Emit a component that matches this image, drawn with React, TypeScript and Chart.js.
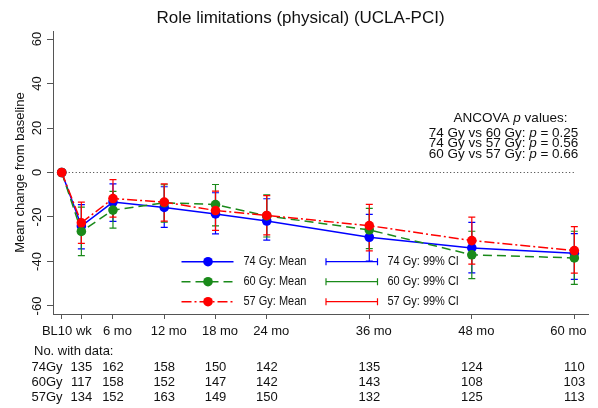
import React, { useEffect, useRef } from 'react';
import { Chart, registerables } from 'chart.js';

Chart.register(...registerables);

// ---------- data ----------
const titleText = 'Role limitations (physical) (UCLA-PCI)';
const yAxisTitle = 'Mean change from baseline';
const months = [0, 2.3, 6, 12, 18, 24, 36, 48, 60];
const tickLabels = ['BL', '10 wk', '6 mo', '12 mo', '18 mo', '24 mo', '36 mo', '48 mo', '60 mo'];
const yTicks = [-60, -40, -20, 0, 20, 40, 60];

const seriesNames = ['74 Gy', '60 Gy', '57 Gy'];
const tableNames = ['74Gy', '60Gy', '57Gy'];

const mean74 = [0, -24.1, -13.3, -15.7, -18.6, -21.8, -29.1, -33.9, -36.3];
const hi74 = [null, -14.4, -5.1, -6.4, -9.1, -11.8, -18.8, -22.4, -27.5];
const lo74 = [null, -34.3, -22.0, -24.7, -27.6, -30.4, -39.8, -45.1, -48.0];

const mean60 = [0, -26.5, -16.9, -13.6, -14.4, -19.5, -25.8, -37.0, -38.4];
const hi60 = [null, -15.6, -8.5, -5.5, -5.4, -10.0, -16.1, -26.4, -26.4];
const lo60 = [null, -37.4, -25.0, -22.3, -24.0, -29.0, -34.2, -47.7, -50.3];

const mean57 = [0, -22.6, -11.7, -13.3, -17.1, -19.3, -23.9, -30.6, -35.1];
const hi57 = [null, -13.3, -3.2, -5.1, -8.4, -10.4, -14.3, -20.1, -24.3];
const lo57 = [null, -31.9, -20.1, -21.9, -26.0, -28.0, -35.2, -41.2, -45.2];

// counts for 10 wk .. 60 mo
const n74 = [135, 162, 158, 150, 142, 135, 124, 110];
const n60 = [117, 158, 152, 147, 142, 143, 108, 103];
const n57 = [134, 152, 163, 149, 150, 132, 125, 113];

const pComparisons = ['74 Gy vs 60 Gy', '74 Gy vs 57 Gy', '60 Gy vs 57 Gy'];
const pValues = ['0.25', '0.56', '0.66'];

const zeroLineX = [0, 60];
const zeroLineY = [0, 0];

// ---------- styles ----------
const FONT = "'Liberation Sans', Arial, Helvetica, sans-serif";
const colors = ['#0000ff', '#1a8a1a', '#ff0000'];
const dashes: number[][] = [[], [9, 5], [10, 3, 2, 3]];

const means = [mean74, mean60, mean57];
const his = [hi74, hi60, hi57];
const los = [lo74, lo60, lo57];
const counts = [n74, n60, n57];

type Seg = { t: string; i?: boolean };

function drawRich(ctx: CanvasRenderingContext2D, segs: Seg[], x: number, y: number, size: number) {
  let w = 0;
  for (const s of segs) {
    ctx.font = `${s.i ? 'italic ' : ''}${size}px ${FONT}`;
    w += ctx.measureText(s.t).width;
  }
  let cx = x - w / 2;
  ctx.textAlign = 'left';
  for (const s of segs) {
    ctx.font = `${s.i ? 'italic ' : ''}${size}px ${FONT}`;
    ctx.fillText(s.t, cx, y);
    cx += ctx.measureText(s.t).width;
  }
}

function fillNarrow(ctx: CanvasRenderingContext2D, text: string, x: number, y: number, sx: number) {
  ctx.save();
  ctx.translate(x, y);
  ctx.scale(sx, 1);
  ctx.textAlign = 'left';
  ctx.fillText(text, 0, 0);
  ctx.restore();
}

const decorPlugin = {
  id: 'decor',
  beforeDatasetsDraw(chart: any) {
    const ctx: CanvasRenderingContext2D = chart.ctx;
    const xs = chart.scales.x;
    const ys = chart.scales.y;
    ctx.save();
    ctx.lineWidth = 1.2;
    for (let s = 0; s < 3; s++) {
      ctx.strokeStyle = colors[s];
      for (let i = 0; i < months.length; i++) {
        const lo = los[s][i];
        const hi = his[s][i];
        if (lo == null || hi == null) continue;
        const x = xs.getPixelForValue(months[i]);
        const y1 = ys.getPixelForValue(lo);
        const y2 = ys.getPixelForValue(hi);
        ctx.beginPath();
        ctx.moveTo(x, y1);
        ctx.lineTo(x, y2);
        ctx.moveTo(x - 3.5, y1);
        ctx.lineTo(x + 3.5, y1);
        ctx.moveTo(x - 3.5, y2);
        ctx.lineTo(x + 3.5, y2);
        ctx.stroke();
      }
    }
    ctx.restore();
  },
  afterDraw(chart: any) {
    const ctx: CanvasRenderingContext2D = chart.ctx;
    const xs = chart.scales.x;
    const ys = chart.scales.y;
    const area = chart.chartArea;
    ctx.save();
    ctx.fillStyle = '#111';
    ctx.textBaseline = 'middle';

    // title
    ctx.font = `17px ${FONT}`;
    ctx.textAlign = 'center';
    ctx.fillText(titleText, 300.5, 18);

    // y tick labels (rotated)
    ctx.font = `13px ${FONT}`;
    for (const v of yTicks) {
      const y = ys.getPixelForValue(v);
      ctx.save();
      ctx.translate(44, y);
      ctx.rotate(-Math.PI / 2);
      ctx.textAlign = 'center';
      ctx.textBaseline = 'bottom';
      ctx.fillText(String(v), 0, 0);
      ctx.restore();
    }
    // y axis title
    ctx.save();
    ctx.translate(20, (area.top + area.bottom) / 2);
    ctx.rotate(-Math.PI / 2);
    ctx.textAlign = 'center';
    ctx.textBaseline = 'middle';
    ctx.font = `13px ${FONT}`;
    ctx.fillText(yAxisTitle, 0, 0);
    ctx.restore();

    // x tick labels
    ctx.font = `13px ${FONT}`;
    ctx.textBaseline = 'middle';
    const lx = months.map((m) => xs.getPixelForValue(m));
    const widths = tickLabels.map((t) => ctx.measureText(t).width);
    const lefts = lx.map((x, i) => x + 4.5 - widths[i] / 2);
    // keep last label inside the axis
    const last = tickLabels.length - 1;
    if (lefts[last] + widths[last] > area.right - 1.5) lefts[last] = area.right - 1.5 - widths[last];
    // group overlapping labels and centre the group between their ticks
    let i = 0;
    while (i < tickLabels.length) {
      let j = i;
      while (j + 1 < tickLabels.length && lefts[j] + widths[j] > lefts[j + 1]) j++;
      if (j > i) {
        let total = 0;
        let avg = 0;
        for (let k = i; k <= j; k++) {
          total += widths[k];
          avg += lx[k];
        }
        avg /= j - i + 1;
        let cur = avg - 4.7 - total / 2;
        for (let k = i; k <= j; k++) {
          lefts[k] = cur;
          cur += widths[k];
        }
      }
      i = j + 1;
    }
    ctx.textAlign = 'left';
    tickLabels.forEach((t, k) => ctx.fillText(t, lefts[k], 331.5));

    // table of counts
    ctx.font = `13px ${FONT}`;
    ctx.textAlign = 'left';
    ctx.fillText('No. with data:', 34, 351.5);
    const rowY = [367, 382, 397];
    for (let r = 0; r < 3; r++) {
      ctx.textAlign = 'left';
      ctx.fillText(tableNames[r], 31.5, rowY[r]);
      ctx.textAlign = 'center';
      counts[r].forEach((n, k) => {
        ctx.fillText(String(n), lx[k + 1], rowY[r]);
      });
    }

    // legend
    const legY = [261.7, 281.7, 301.7];
    for (let s = 0; s < 3; s++) {
      const y = legY[s];
      ctx.strokeStyle = colors[s];
      ctx.fillStyle = colors[s];
      ctx.lineWidth = 1.5;
      ctx.setLineDash(dashes[s]);
      ctx.beginPath();
      ctx.moveTo(181.5, y);
      ctx.lineTo(233.5, y);
      ctx.stroke();
      ctx.setLineDash([]);
      ctx.beginPath();
      ctx.arc(208, y, 4.8, 0, Math.PI * 2);
      ctx.fill();
      // CI sample
      ctx.lineWidth = 1.2;
      ctx.beginPath();
      ctx.moveTo(326, y);
      ctx.lineTo(377.5, y);
      ctx.moveTo(326, y - 3.5);
      ctx.lineTo(326, y + 3.5);
      ctx.moveTo(377.5, y - 3.5);
      ctx.lineTo(377.5, y + 3.5);
      ctx.stroke();
      ctx.fillStyle = '#111';
      ctx.font = `12px ${FONT}`;
      ctx.textBaseline = 'middle';
      fillNarrow(ctx, `${seriesNames[s]}: Mean`, 243.5, y, 0.915);
      fillNarrow(ctx, `${seriesNames[s]}: 99% CI`, 387.5, y, 0.915);
    }

    // ANCOVA annotation
    ctx.fillStyle = '#111';
    ctx.textBaseline = 'middle';
    drawRich(ctx, [{ t: 'ANCOVA ' }, { t: 'p', i: true }, { t: ' values:' }], 510.5, 118.5, 13.5);
    const pY = [133, 143.5, 154];
    pComparisons.forEach((c, k) => {
      drawRich(ctx, [{ t: `${c}: ` }, { t: 'p', i: true }, { t: ` = ${pValues[k]}` }], 503.5, pY[k], 13.5);
    });

    ctx.restore();
  },
};

export default function App() {
  const ref = useRef<HTMLCanvasElement | null>(null);

  useEffect(() => {
    document.body.style.margin = '0';
    const canvas = ref.current;
    if (!canvas) return;

    const mk = (s: number) => ({
      label: seriesNames[s],
      data: months.map((m, i) => ({ x: m, y: means[s][i] })),
      borderColor: colors[s],
      backgroundColor: colors[s],
      borderWidth: 1.5,
      borderDash: dashes[s],
      pointRadius: 4.8,
      pointBorderWidth: 0,
      pointBackgroundColor: colors[s],
      pointBorderColor: colors[s],
      tension: 0,
      fill: false,
    });

    const chart = new Chart(canvas, {
      type: 'line',
      data: {
        datasets: [
          mk(2),
          mk(1),
          mk(0),
          {
            label: 'zero',
            data: zeroLineX.map((x, i) => ({ x, y: zeroLineY[i] })),
            borderColor: '#333',
            borderWidth: 1,
            borderDash: [1, 2.5],
            pointRadius: 0,
            fill: false,
          } as any,
        ],
      },
      plugins: [decorPlugin],
      options: {
        animation: false,
        responsive: false,
        maintainAspectRatio: false,
        events: [],
        layout: { padding: { top: 31, right: 10, left: 0, bottom: 0 } },
        plugins: {
          legend: { display: false },
          title: { display: false },
          tooltip: { enabled: false },
        },
        scales: {
          x: {
            type: 'linear',
            min: -1.02,
            max: 61.6,
            afterBuildTicks: (s: any) => {
              s.ticks = months.map((v) => ({ value: v }));
            },
            afterFit: (s: any) => {
              s.height = 94;
            },
            ticks: { display: false },
            grid: { drawOnChartArea: false, drawTicks: true, tickLength: 5, color: '#555', lineWidth: 1 },
            border: { display: true, color: '#555', width: 1 },
          },
          y: {
            type: 'linear',
            min: -63.6,
            max: 63.6,
            afterBuildTicks: (s: any) => {
              s.ticks = yTicks.map((v) => ({ value: v }));
            },
            afterFit: (s: any) => {
              s.width = 53;
            },
            ticks: { display: false },
            grid: { drawOnChartArea: false, drawTicks: true, tickLength: 6, color: '#555', lineWidth: 1 },
            border: { display: true, color: '#555', width: 1 },
          },
        },
      },
    });

    return () => chart.destroy();
  }, []);

  return <canvas ref={ref} width={598} height={408} style={{ display: 'block' }} />;
}
